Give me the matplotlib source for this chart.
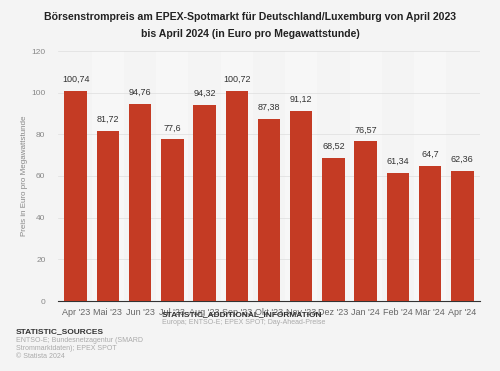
import matplotlib
matplotlib.use("Agg")
import matplotlib.pyplot as plt
import numpy as np

months = ["Apr '23", "Mai '23", "Jun '23", "Jul '23", "Aug '23", "Sep '23", "Okt '23",
          "Nov '23", "Dez '23", "Jan '24", "Feb '24", "Mär '24", "Apr '24"]
prices = [100.74, 81.72, 94.76, 77.6, 94.32, 100.72, 87.38, 91.12, 68.52, 76.57, 61.34, 64.7, 62.36]
labels = ["100,74", "81,72", "94,76", "77,6", "94,32", "100,72", "87,38",
          "91,12", "68,52", "76,57", "61,34", "64,7", "62,36"]
yticks = [0, 20, 40, 60, 80, 100, 120]

plt.rcParams['font.family'] = ['Liberation Sans', 'DejaVu Sans']
bg = '#f4f4f4'
fig = plt.figure(figsize=(5, 3.71), dpi=100, facecolor=bg)
ax = fig.add_axes([58 / 500, 1 - 301 / 371, 422 / 500, 250 / 371], facecolor=bg)

x = np.arange(len(months))
# alternating column shading
for i in x[1::2]:
    ax.axvspan(i - 0.5, i + 0.5, color='white', alpha=0.3, lw=0, zorder=0)

ax.bar(x, prices, width=0.7, color='#c43b24', zorder=3)
for xi, v, lab in zip(x, prices, labels):
    ax.annotate(lab, (xi, v), xytext=(0, 5), textcoords='offset points',
                ha='center', va='bottom', fontsize=6.5, color='#333333', zorder=4)

ax.set_xlim(-0.55, len(months) - 0.45)
ax.set_ylim(0, 120)
ax.set_yticks(yticks)
ax.set_yticklabels([str(t) for t in yticks], fontsize=6, color='#888888')
ax.set_xticks(x)
ax.set_xticklabels(months, fontsize=6.5, color='#666666')
ax.tick_params(axis='both', length=0, pad=5)
ax.tick_params(axis='y', pad=9)
ax.grid(axis='y', color='#e2e2e2', lw=0.6, zorder=1)
ax.set_axisbelow(True)
for s in ['top', 'right', 'left']:
    ax.spines[s].set_visible(False)
ax.spines['bottom'].set_color('#333333')
ax.spines['bottom'].set_linewidth(0.8)
ax.set_ylabel('Preis in Euro pro Megawattstunde', fontsize=5.8, color='#888888', labelpad=2)

fig.text(0.5, 1 - 17 / 371, 'Börsenstrompreis am EPEX-Spotmarkt für Deutschland/Luxemburg von April 2023',
         ha='center', va='center', fontsize=7.6, fontweight='bold', color='#222222')
fig.text(0.5, 1 - 34 / 371, 'bis April 2024 (in Euro pro Megawattstunde)',
         ha='center', va='center', fontsize=7.6, fontweight='bold', color='#222222')

fig.text(162 / 500, 1 - 315 / 371, 'STATISTIC_ADDITIONAL_INFORMATION', fontsize=6, fontweight='bold',
         color='#333333', va='center')
fig.text(162 / 500, 1 - 323 / 371, 'Europa; ENTSO-E; EPEX SPOT; Day-Ahead-Preise', fontsize=5,
         color='#aaaaaa', va='center')
fig.text(16 / 500, 1 - 332 / 371, 'STATISTIC_SOURCES', fontsize=6, fontweight='bold',
         color='#333333', va='center')
fig.text(16 / 500, 1 - 340 / 371, 'ENTSO-E; Bundesnetzagentur (SMARD', fontsize=5,
         color='#aaaaaa', va='center')
fig.text(16 / 500, 1 - 348 / 371, 'Strommarktdaten); EPEX SPOT', fontsize=5,
         color='#aaaaaa', va='center')
fig.text(16 / 500, 1 - 356 / 371, '© Statista 2024', fontsize=5,
         color='#aaaaaa', va='center')

fig.savefig('out.png', dpi=100, facecolor=bg)
